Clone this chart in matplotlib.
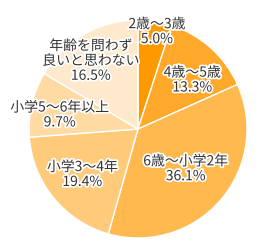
import numpy as np
import matplotlib
matplotlib.use("Agg")
import matplotlib.pyplot as plt
import matplotlib.patheffects as pe

plt.rcParams['font.family'] = ['Noto Sans CJK JP', 'DejaVu Sans']

labels = ["2歳～3歳", "4歳～5歳", "6歳～小学2年", "小学3～4年", "小学5～6年以上", "年齢を問わず\n良いと思わない"]
shares = [5.0, 13.3, 36.1, 19.4, 9.7, 16.5]
colors = ["#ff9900", "#ffa82a", "#ffb94f", "#ffca7a", "#ffdaa3", "#ffe9cd"]

fig = plt.figure(figsize=(2.62, 2.5), dpi=100)
ax = fig.add_axes([29 / 262, 12 / 250, 218 / 262, 218 / 250])

wedges, _ = ax.pie(shares, colors=colors, startangle=90, counterclock=False,
                   radius=1.0, wedgeprops=dict(edgecolor="white", linewidth=1.0))

# where each label sits, as a fraction of the radius
label_r = [0.91, 0.67, 0.57, 0.66, 0.73, 0.76]
label_shift = [-2, -6, 1, 0, 3, 5]

for w, lab, val, rr, sh in zip(wedges, labels, shares, label_r, label_shift):
    ang = np.deg2rad((w.theta1 + w.theta2) / 2 + sh)
    x, y = rr * np.cos(ang), rr * np.sin(ang)
    ax.text(x, y, f"{lab}\n{val:.1f}%", ha="center", va="center",
            fontsize=10, color="#333333", linespacing=1.08,
            path_effects=[pe.withStroke(linewidth=2.5, foreground="white")])

ax.set_xlim(-1, 1)
ax.set_ylim(-1, 1)
ax.set_aspect("equal")
ax.axis("off")

fig.savefig("out.png", dpi=100)
